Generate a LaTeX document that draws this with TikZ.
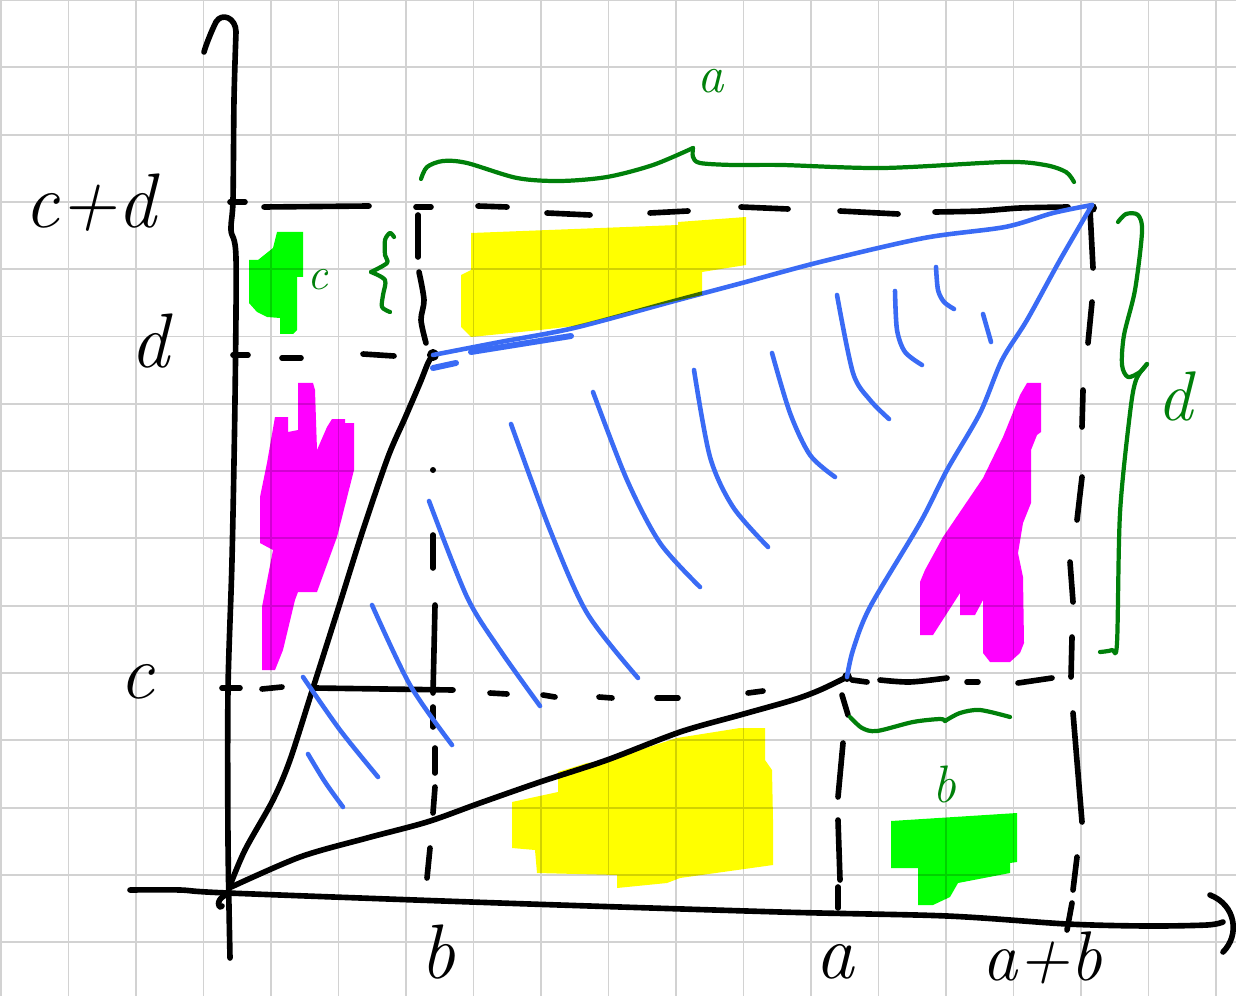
\documentclass[tikz,border=0pt]{standalone}
\usepackage{fontspec}
\definecolor{hb}{HTML}{3A6BF5}
\definecolor{gd}{HTML}{00800A}
\definecolor{hy}{HTML}{FFFF00}
\definecolor{hm}{HTML}{FF00FF}
\definecolor{hg}{HTML}{00FF00}
\definecolor{gridc}{HTML}{D2D2D2}
\begin{document}
\begin{tikzpicture}[x=0.02cm,y=-0.02cm,line cap=round,line join=round,
  gridline/.style={line width=1.1pt,gridc},
  ink/.style={line width=3.2pt,black},
  dsh/.style={line width=3.2pt,black},
  bl/.style={line width=2.6pt,hb},
  gr/.style={line width=2.4pt,gd},
  lab/.style={font=\fontsize{44}{44}\selectfont\itshape,inner sep=0pt,anchor=base},
  glab/.style={font=\fontsize{30}{30}\selectfont\itshape,inner sep=0pt,anchor=base,text=gd},
  hl/.style={draw=none}]
\useasboundingbox (0,0) rectangle (1236,996);
\fill[white] (0,0) rectangle (1236,996);
% grid
\foreach \i in {0,...,18} \draw[gridline] ({1+67.5*\i},0) -- ({1+67.5*\i},996);
\foreach \j in {0,...,14} \draw[gridline] (0,{67.3*\j}) -- (1236,{67.3*\j});

% key points
\coordinate (O) at (229,888);
\coordinate (P1) at (433,355);
\coordinate (P2) at (847,677);
\coordinate (P3) at (1092,205);

% axes
\draw[ink] plot[smooth] coordinates {(230,958) (228,840) (228,690) (232,560) (235,400) (236,258) (231,230) (233,200) (234,100) (236,32)};
\draw[ink] (236,32) .. controls (236,18) and (222,12) .. (216,22) .. controls (211,32) and (206,45) .. (204,52);
\draw[ink] plot[smooth] coordinates {(130,890) (180,890) (228,893) (500,903) (780,912) (947,916) (1067,924) (1147,926) (1207,925) (1223,922)};
\draw[ink] (1210,895) .. controls (1236,905) and (1240,935) .. (1223,952);
\draw[ink] (224,896) .. controls (216,900) and (218,910) .. (222,906);
% ticks
\draw[ink] (230,202) -- (245,202);
\draw[ink] (233,355) -- (248,355);

% axis labels
\node[lab] (lcd) at (90,228) {c+d};
\node[lab] (ld) at (150,368) {d};
\node[lab] (lc) at (137,698) {c};
\node[lab] (lb) at (438,978) {b};
\node[lab] (la) at (835,978) {a};
\node[lab,font=\fontsize{40}{40}\selectfont\itshape] (lab2) at (1042,980) {a+b};

% dashed guide lines (hand drawn dashes)
\foreach \a/\b in {{(264,207)}/{(369,206)},{(416,207)}/{(431,207)},{(478,206)}/{(507,207)},{(547,213)}/{(590,215)},{(650,213)}/{(688,211)},{(741,207)}/{(788,209)},{(840,211)}/{(898,214)},{(282,358)}/{(301,358)},{(363,354)}/{(394,356)},{(222,688)}/{(240,688)},{(262,689)}/{(282,687)},{(490,693)}/{(507,694)},{(543,695)}/{(555,697)},{(599,697)}/{(612,698)},{(657,698)}/{(678,698)},{(748,693)}/{(763,691)},{(852,680)}/{(867,682)},{(967,682)}/{(978,682)},{(1018,683)}/{(1052,678)},{(418,215)}/{(418,257)},{(433,535)}/{(433,568)},{(433,707)}/{(433,727)},{(435,748)}/{(435,773)},{(435,787)}/{(433,813)},{(430,848)}/{(427,878)},{(842,695)}/{(848,715)},{(843,743)}/{(838,797)},{(838,820)}/{(840,880)},{(838,887)}/{(838,908)},{(1090,210)}/{(1093,268)},{(1092,302)}/{(1088,343)},{(1083,390)}/{(1082,427)},{(1082,477)}/{(1077,520)},{(1070,562)}/{(1073,602)},{(1072,637)}/{(1071,677)},{(1073,713)}/{(1082,822)},{(1077,857)}/{(1073,890)},{(1072,903)}/{(1067,930)}}
  \draw[dsh] \a -- \b;
\draw[dsh] plot[smooth] coordinates {(935,212) (980,211) (1020,208) (1068,207)};
\draw[dsh] plot[smooth] coordinates {(880,680) (910,682) (947,678)};
\draw[dsh] plot[smooth] coordinates {(419,272) (424,300) (421,320) (426,343)};
\draw[dsh] plot[smooth] coordinates {(435,605) (434,650) (433,693)};
\fill (433,470) circle (3);
\draw[ink] (315,688) -- (453,690);

% black curves from origin
\draw[ink] plot[smooth] coordinates {(O) (245,850) (273,800) (290,760) (313,688) (340,603) (363,530) (388,457) (405,418) (420,383) (428,363) (P1)};
\draw[ink] plot[smooth] coordinates {(O) (300,857) (367,838) (427,822) (480,803) (540,782) (607,760) (680,732) (740,715) (793,700) (820,690) (P2)};
\draw[line width=2.2pt] (P1) circle (4);
\fill (P2) circle (5);
\fill (P3) ++(0,3) circle (5);

% blue lines
\draw[bl] plot[smooth] coordinates {(P1) (500,342) (574,328) (678,300) (742,283) (820,262) (924,238) (1005,227) (1053,213) (P3)};
\draw[bl,line width=3.4pt] (433,368) -- (456,363);
\draw[bl,line width=3.4pt] (471,352) -- (571,336);
\draw[bl] plot[smooth] coordinates {(P2) (853,650) (870,607) (920,523) (947,470) (980,413) (1002,360) (1027,320) (1060,260) (P3)};
% hatching
\draw[bl] plot[smooth] coordinates {(429,501) (467,597) (500,650) (540,706)};
\draw[bl] plot[smooth] coordinates {(511,424) (550,530) (587,613) (638,678)};
\draw[bl] plot[smooth] coordinates {(593,392) (627,480) (660,543) (700,587)};
\draw[bl] plot[smooth] coordinates {(694,370) (710,457) (733,507) (768,547)};
\draw[bl] plot[smooth] coordinates {(772,353) (790,413) (810,455) (835,477)};
\draw[bl] plot[smooth] coordinates {(837,295) (853,373) (870,400) (889,419)};
\draw[bl] plot[smooth] coordinates {(895,291) (897,330) (905,352) (922,365)};
\draw[bl] plot[smooth] coordinates {(936,267) (938,290) (944,302) (954,309)};
\draw[bl] (983,314) -- (991,342);
\draw[bl] plot[smooth] coordinates {(372,605) (410,685) (452,745)};
\draw[bl] plot[smooth] coordinates {(303,677) (340,730) (378,777)};
\draw[bl] plot[smooth] coordinates {(308,754) (325,782) (343,807)};

% green braces
\draw[gr] plot[smooth] coordinates {(421,179) (427,167) (443,161) (467,163) (517,178) (560,181) (607,177) (653,165) (693,148)};
\draw[gr] plot[smooth] coordinates {(693,148) (693,157) (700,163) (733,165) (782,165) (883,168) (1005,162) (1045,165) (1066,172) (1074,182)};
\draw[gr] plot[smooth] coordinates {(394,237) (390,233) (385,240) (385,255) (387,263) (371,272)};
\draw[gr] plot[smooth] coordinates {(371,272) (385,280) (383,295) (382,307) (390,312)};
\draw[gr] plot[smooth] coordinates {(1118,222) (1126,214) (1138,215) (1142,232) (1135,290) (1124,335) (1122,365) (1128,377) (1140,372) (1147,364)};
\draw[gr] plot[smooth] coordinates {(1147,364) (1136,380) (1130,413) (1120,513) (1117,643) (1112,650) (1100,652)};
\draw[gr] plot[smooth] coordinates {(850,717) (862,728) (877,731) (913,722) (940,719) (945,721)};
\draw[gr] plot[smooth] coordinates {(945,721) (960,713) (980,710) (1010,717)};

% green labels
\node[glab] (ga) at (711,93) {a};
\node[glab,font=\fontsize{26}{26}\selectfont\itshape] (gc) at (318,290) {c};
\node[glab] (gb) at (944,802) {b};
\node[glab,font=\fontsize{40}{40}\selectfont\itshape] (gdl) at (1175,420) {d};

% highlighter fills
\begin{scope}[blend mode=multiply]
\fill[hy] (471,233) -- (678,225) -- (678,222) -- (746,217) -- (746,265) -- (702,272) -- (702,295) -- (640,309) -- (574,326) -- (540,330) -- (471,337) -- (461,327) -- (461,275) -- (471,270) -- cycle;
\fill[hy] (512,802) -- (558,792) -- (558,772) -- (587,763) -- (608,760) -- (677,738) -- (740,728) -- (765,728) -- (765,760) -- (772,770) -- (773,820) -- (773,865) -- (680,878) -- (667,883) -- (617,888) -- (617,875) -- (537,873) -- (535,850) -- (512,848) -- cycle;
\fill[hm] (298,383) -- (313,383) -- (315,390) -- (317,450) -- (327,427) -- (332,419) -- (345,419) -- (345,423) -- (354,423) -- (354,470) -- (337,537) -- (317,592) -- (298,592) -- (295,600) -- (283,650) -- (275,670) -- (262,670) -- (262,607) -- (273,550) -- (260,543) -- (260,497) -- (267,463) -- (275,417) -- (288,417) -- (288,432) -- (298,430) -- cycle;
\fill[hm] (1027,383) -- (1041,383) -- (1041,432) -- (1037,435) -- (1031,450) -- (1031,503) -- (1023,523) -- (1018,553) -- (1023,577) -- (1024,643) -- (1020,653) -- (1010,662) -- (990,662) -- (983,653) -- (983,600) -- (975,615) -- (960,615) -- (960,593) -- (933,635) -- (920,635) -- (920,582) -- (925,570) -- (943,537) -- (983,478) -- (1003,437) -- (1020,395) -- cycle;
\fill[hg] (277,232) -- (303,232) -- (303,277) -- (297,277) -- (297,330) -- (293,334) -- (280,334) -- (280,318) -- (267,317) -- (257,312) -- (249,303) -- (249,260) -- (258,260) -- (273,248) -- cycle;
\fill[hg] (891,821) -- (1017,813) -- (1017,862) -- (1010,863) -- (1010,873) -- (958,883) -- (950,897) -- (933,905) -- (918,905) -- (918,868) -- (891,868) -- cycle;
\end{scope}
\end{tikzpicture}
\end{document}
